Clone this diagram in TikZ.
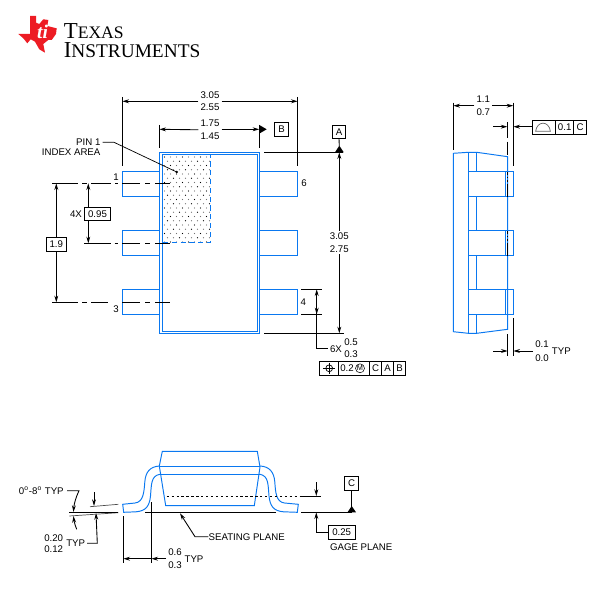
\documentclass[tikz,border=0pt]{standalone}
\usepackage{fontspec}
\setmainfont{Liberation Sans}
\newfontfamily\logofont{Liberation Serif}
\usetikzlibrary{arrows.meta}
\definecolor{pkgblue}{RGB}{10,120,240}
\definecolor{tired}{RGB}{237,28,36}
\def\pw{0.5692pt}
\newcommand{\dimfont}{\fontsize{5.5}{5.8}\selectfont}
\tikzset{
  pkgline/.style={draw=pkgblue, line width=.55pt},
  dimline/.style={draw=black, line width=.5pt},
  dimarrow/.style={dimline, -{Stealth[length=3.8pt,width=2.2pt]}},
  dimtext/.style={font=\dimfont, inner sep=1pt, align=center},
  framecell/.style={draw=black, line width=.55pt, font=\dimfont, inner sep=0pt, outer sep=0pt, minimum height=13.6*\pw}
}
\begin{document}
\begin{tikzpicture}[x=0.02cm, y=-0.02cm]
    \useasboundingbox (0,0) rectangle (604,604);

    % logo
    \fill[tired] (30,16) -- (36,16) -- (36,22.7) -- (39.3,24) -- (43.3,19.3) -- (48.3,20) -- (47.3,26) -- (56.7,28.3) -- (56,34) -- (51.7,40) -- (48.3,40) -- (43.3,44) -- (45,52.7) -- (39.3,49.3) -- (35,41.7) -- (30.7,39.3) -- (27.3,43.3) -- (23.3,38.3) -- (18.3,34) -- (30,34) -- cycle;
    \node (logoTi) at (42.5,32) [text=white, font=\logofont\bfseries\itshape\fontsize{11}{11}\selectfont, inner sep=0pt] {ti};
    \node (logoTexas) at (63.5,31) [anchor=west, inner sep=0pt, font=\logofont] {{\fontsize{13}{13}\selectfont T}{\fontsize{10}{13}\selectfont EXAS}};
    \node (logoInstr) at (63.5,50) [anchor=west, inner sep=0pt, font=\logofont] {{\fontsize{13}{13}\selectfont I}{\fontsize{11}{13}\selectfont NSTRUMENTS}};

    % top view, package
    \draw[pkgline] (159.3,152.3) rectangle (259.3,333.3);
    \draw[pkgline] (162.7,154.3) rectangle (257.7,331.3);
    \foreach \ya/\yb in {171.3/196.3, 230.3/255.3, 289.3/314.3} {
        \draw[pkgline] (159.3,\ya) -- (122.3,\ya) -- (122.3,\yb) -- (159.3,\yb);
        \draw[pkgline] (259.3,\ya) -- (297.7,\ya) -- (297.7,\yb) -- (259.3,\yb);
    }

    % index area
    \foreach \row in {0,...,20} {
        \pgfmathsetmacro{\yy}{157+4.25*\row}
        \pgfmathsetmacro{\xo}{mod(\row,2)*3}
        \foreach \col in {0,...,7} {
            \pgfmathsetmacro{\tone}{mod(\row+\col,3)==0 ? 100 : 55}
            \fill[black!\tone] (164.5+\xo+6*\col,\yy) circle (.36pt);
        }
    }
    \draw[pkgline, densely dashed] (163,242.7) -- (210,242.7) -- (210,155);

    % top view, centre lines
    \foreach \yc in {183.3, 243.3, 302.3} {
        \draw[dimline] (122.3,\yc) -- (140,\yc);
        \draw[dimline] (145,\yc) -- (150,\yc);
        \draw[dimline] (155,\yc) -- (170,\yc);
    }
    \foreach \yc in {183.3, 302.3} {
        \draw[dimline] (52,\yc) -- (78,\yc);
        \draw[dimline] (82,\yc) -- (87,\yc);
    }
    \draw[dimline] (91,183.3) -- (111,183.3);
    \draw[dimline] (115,183.3) -- (118,183.3);
    \draw[dimline] (84,243.3) -- (111,243.3);
    \draw[dimline] (114.5,243.3) -- (118,243.3);
    \draw[dimline] (91,302.3) -- (108,302.3);

    % top view, dimensions
    \draw[dimline] (122.3,97) -- (122.3,166);
    \draw[dimline] (297.7,97) -- (297.7,166);
    \node (dimBodyW) at (210,101.3) [dimtext] {3.05\\[1.3pt]2.55};
    \draw[dimarrow] (dimBodyW.west) -- (122.3,101.3);
    \draw[dimarrow] (dimBodyW.east) -- (297.7,101.3);

    \draw[dimline] (159.3,125) -- (159.3,148);
    \draw[dimline] (259.3,125) -- (259.3,148);
    \node (dimInnerW) at (210,129.8) [dimtext] {1.75\\[1.3pt]1.45};
    \draw[dimarrow] (dimInnerW.west) -- (159.3,129.3);
    \draw[dimarrow] (dimInnerW.east |- 0,129.3) -- (259.3,129.3);
    \node (datumB) at (281.5,129.5) [framecell, minimum width=14.4*\pw, minimum height=14.4*\pw] {B};
    \fill (266.7,129.3) -- (259.3,125) -- (259.3,133.6) -- cycle;

    \node (datumA) at (339,131.8) [framecell, minimum width=13.4*\pw] {A};
    \draw[dimline] (264,152.3) -- (343,152.3);
    \fill (335,152.3) -- (343.7,152.3) -- (339.3,145.7) -- cycle;
    \draw[dimline] (datumA.south) -- (339.3,146);
    \draw[dimline] (264,333.3) -- (344,333.3);
    \node (dimBodyH) at (339.3,242.5) [dimtext] {3.05\\[1.5pt]2.75};
    \draw[dimarrow] (dimBodyH.north) -- (339.3,152.3);
    \draw[dimarrow] (dimBodyH.south) -- (339.3,333.3);

    \node (dimPitch) at (56.3,244.2) [framecell, minimum width=20*\pw] {1.9};
    \draw[dimarrow] (dimPitch.north) -- (56.3,183.3);
    \draw[dimarrow] (dimPitch.south) -- (56.3,302.3);
    \node (dimLead) at (97.5,213.8) [framecell, minimum width=26.4*\pw] {0.95};
    \draw[dimarrow] (88.3,207.1) -- (88.3,183.3);
    \draw[dimarrow] (88.3,220.5) -- (88.3,243.3);
    \node (dimLeadN) at (76,213.8) [dimtext] {4X};

    \node (pinOneA) at (102.5,142.3) [dimtext, anchor=east] {PIN 1};
    \node (pinOneB) at (102.5,152.3) [dimtext, anchor=east] {INDEX AREA};
    \draw[line width=.4pt] (pinOneA.east) -- (114,142.3) -- (176.7,172);
    \fill (176.7,172) circle (.8pt);
    \node (pinNumA) at (116,177) [dimtext] {1};
    \node (pinNumB) at (116,309.3) [dimtext] {3};
    \node (pinNumC) at (304,183.3) [dimtext] {6};
    \node (pinNumD) at (303.3,302.3) [dimtext] {4};

    \draw[dimline] (301,289.3) -- (321.7,289.3);
    \draw[dimline] (301,314.3) -- (321.7,314.3);
    \node (dimWidthN) at (336,348.7) [dimtext] {6X};
    \node (dimWidth) at (351,348.3) [dimtext] {0.5\\[1.3pt]0.3};
    \draw[dimline] (dimWidthN.west) -- (316.7,348.7) -- (316.7,300);
    \draw[dimarrow] (316.7,301) -- (316.7,289.3);
    \draw[dimarrow] (316.7,302) -- (316.7,314.3);

    % position tolerance frame
    \node (posSym) at (329.2,368.3) [framecell, minimum width=19*\pw] {};
    \node (posTol) at (354,368.3) [framecell, minimum width=30.6*\pw] {};
    \node (posC) at (375.5,368.3) [framecell, minimum width=12.4*\pw] {C};
    \node (posA) at (387.7,368.3) [framecell, minimum width=12*\pw] {A};
    \node (posB) at (399.7,368.3) [framecell, minimum width=12*\pw] {B};
    \node (posVal) at (347,368.3) [dimtext] {0.2};
    \node (posM) at (360,368.3) [circle, draw, line width=.3pt, inner sep=0pt, minimum size=9*\pw, font=\fontsize{4.2}{4.2}\selectfont] {M};
    \draw[line width=.4pt] (329.2,368.3) circle (3.4*\pw);
    \draw[line width=.4pt] (323.2,368.3) -- (335.2,368.3) (329.2,362.5) -- (329.2,374.1);

    % side view, package
    \draw[pkgline] (507.7,156.7) -- (476.7,152.3) -- (468.3,152.3) -- (453.3,153.3) -- (453.3,331.7) -- (468.3,333.3) -- (476.7,333.3) -- (507.7,329.3) -- cycle;
    \draw[pkgline] (468.3,152.3) -- (468.3,333.3);
    \foreach \ya/\yb in {152.3/171.3, 196.3/230.3, 255.3/289.3, 314.3/333.3} {
        \draw[pkgline] (476.7,\ya) -- (476.7,\yb);
    }
    \foreach \ya/\yb in {171.3/196.3, 230.3/255.3, 289.3/314.3} {
        \draw[pkgline] (468.3,\ya) rectangle (513.3,\yb);
        \draw[pkgline] (505.7,\ya) -- (505.7,\yb);
    }
    \foreach \ya in {171.3, 230.3} {
        \draw[dimline] (507.4,\ya+1) -- ++(0,2.5) ++(0,2) -- ++(0,1.5) ++(0,2) -- ++(0,1.5) ++(0,2) -- ++(0,13);
    }

    % side view, dimensions
    \draw[dimline] (453.3,102.7) -- (453.3,150);
    \draw[dimline] (513.3,102.7) -- (513.3,166);
    \node (dimHeight) at (483.3,106) [dimtext] {1.1\\[1.8pt]0.7};
    \draw[dimarrow] (dimHeight.west |- 0,105.7) -- (453.3,105.7);
    \draw[dimarrow] (dimHeight.east |- 0,105.7) -- (513.3,105.7);
    \draw[dimline] (507.4,122.3) -- (507.4,138);
    \draw[dimline] (507.4,141.7) -- (507.4,155);
    \draw[dimarrow] (493.3,126.7) -- (507.4,126.7);
    \node (flatSym) at (544,127.4) [framecell, minimum width=23.4*\pw] {};
    \node (flatVal) at (564.7,127.4) [framecell, minimum width=18*\pw] {0.1};
    \node (flatC) at (580,127.4) [framecell, minimum width=12.6*\pw] {C};
    \draw[dimarrow] (flatSym.west |- 0,126.7) -- (513.3,126.7);
    \draw[draw=black!60, line width=.4pt] (535.6,131.3) .. controls (537,120.5) and (549,120.5) .. (550.4,131.3) -- cycle;

    \draw[dimline] (507.7,334) -- (507.7,356);
    \draw[dimline] (513.3,318.3) -- (513.3,356);
    \coordinate (standL) at (493.3,351);
    \draw[dimarrow] (standL) -- (507.7,351);
    \node (dimStand) at (542,351.2) [dimtext] {0.1\\[1.8pt]0.0};
    \node (dimStandT) at (561.3,350.7) [dimtext] {TYP};
    \draw[dimarrow] (dimStand.west |- 0,351) -- (513.3,351);

    % front view, package
    \draw[pkgline] (159.3,466) -- (162.3,451.3) -- (257.3,451.3) -- (260,467) -- (254.3,505.7) -- (165.7,505.7) -- cycle;
    \draw[pkgline] (159.3,466) -- (260,466);
    \draw[pkgline] (159.3,474.3) -- (260,474.3);
    \draw[pkgline] (159.7,466) .. controls (150,466.5) and (145.5,472) .. (144.8,482) .. controls (144,492) and (143.5,502) .. (135,503) -- (122.7,504.3) -- (123.7,512.3) -- (136,511.8) .. controls (146,511) and (149.5,506) .. (150.5,496) .. controls (151.5,484) and (151,476) .. (159.7,474.3);
    \draw[pkgline] (260,466) .. controls (269.5,466.5) and (274,472) .. (274.8,482) .. controls (275.5,492) and (276,502) .. (284.5,503) -- (298.3,504.3) -- (297.3,512.3) -- (283.5,511.8) .. controls (273.5,511) and (270,506) .. (269,496) .. controls (268,484) and (268.5,476) .. (260,474.3);

    % front view, dimensions
    \draw[dimline, dash pattern=on 1.3pt off 1.5pt] (166.7,496) -- (300,496);
    \draw[dimline] (300,496) -- (320.7,496);
    \draw[dimline] (145,512.3) -- (276,512.3);
    \draw[dimline] (301,512.3) -- (352,512.3);
    \node (datumC) at (351.7,483.5) [framecell, minimum width=14*\pw] {C};
    \draw[dimline] (datumC.south) -- (351.7,507);
    \fill (347.5,512.3) -- (356,512.3) -- (351.7,506) -- cycle;
    \draw[dimarrow] (316.3,482.3) -- (316.3,496);
    \node (dimGage) at (341.7,532.5) [framecell, minimum width=26.7*\pw] {0.25};
    \draw[dimarrow] (dimGage.west) -- (316.3,532.5) -- (316.3,512.3);
    \node (gagePlane) at (329.7,546.7) [dimtext, anchor=west, inner sep=0pt] {GAGE PLANE};
    \node (seatPlane) at (208.3,536.7) [dimtext, anchor=west, inner sep=0pt] {SEATING PLANE};
    \draw[dimarrow] (seatPlane.west) -- (195,536.7) -- (180,513.3);

    \draw[dimline] (123.3,516) -- (123.3,563.3);
    \draw[dimline] (151.3,502) -- (151.3,563.3);
    \node (dimFoot) at (175,558.8) [dimtext] {0.6\\[1.6pt]0.3};
    \node (dimFootT) at (194,559) [dimtext] {TYP};
    \draw[dimarrow] (137,558.7) -- (123.3,558.7);
    \draw[dimarrow] (dimFoot.west |- 0,558.7) -- (151.3,558.7);
    \draw[dimline] (137,558.7) -- (151.3,558.7);

    \node (dimThick) at (53.7,543.5) [dimtext] {0.20\\[.8pt]0.12};
    \node (dimThickT) at (75.7,543.2) [dimtext] {TYP};
    \draw[dimarrow] (dimThickT.east) -- (97.3,543.2) -- (96,513);
    \draw[dimarrow] (94,492.3) -- (94,506);
    \draw[draw=black!70, line width=.4pt] (90,506.7) -- (118.3,504.3);
    \draw[draw=black!70, line width=.4pt] (69.3,516) -- (118.3,512.7);
    \draw[dimline] (69.3,512.3) -- (118.3,512.3);

    \node (dimAngle) at (64,490.7) [dimtext, anchor=east, inner sep=0pt] {0\textsuperscript{o}-8\textsuperscript{o} TYP};
    \draw[dimarrow] (dimAngle.east) ++(3,0) -- (79,490.7) .. controls (76,497) and (74,504) .. (73.5,512);
    \draw[dimarrow] (76.7,529.3) .. controls (75,525) and (74,521) .. (73.5,516);
\end{tikzpicture}
\end{document}
